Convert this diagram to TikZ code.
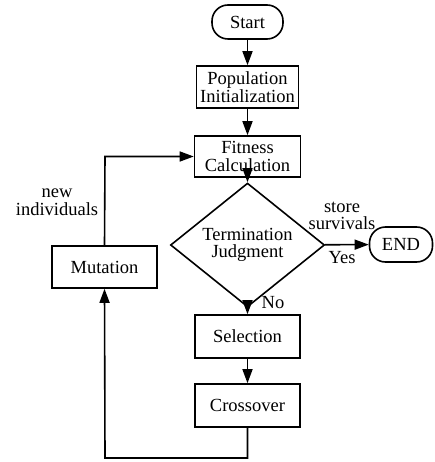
\documentclass[tikz,border=0pt]{standalone}
\usepackage{fontspec}
\setmainfont{Liberation Serif}
\usetikzlibrary{shapes.geometric,arrows.meta}
\begin{document}
\begin{tikzpicture}[x=1pt,y=-1pt,
  every node/.style={font=\fontsize{18.5}{17.5}\selectfont},
  box/.style={draw,line width=1.6pt,rectangle,inner sep=0pt,align=center,minimum width=105pt,minimum height=42pt},
  term/.style={draw,line width=1.6pt,rectangle,rounded corners=16pt,inner sep=0pt,minimum height=34pt},
  dec/.style={draw,line width=1.6pt,diamond,inner sep=0pt,align=center,minimum width=154pt,minimum height=84pt},
  lbl/.style={inner sep=0pt,align=center},
  conn/.style={line width=1.6pt,-{Triangle[length=14pt,width=10pt]}},
  plain/.style={line width=1.6pt}]
\useasboundingbox (0,0) rectangle (434,462);
\node[term,minimum width=71pt] (start) at (247.5,22) {Start};
\node[box,minimum width=102pt] (pop) at (247.5,87) {Population\\Initialization};
\node[box,minimum width=106pt,minimum height=41pt] (fit) at (247.5,156.5) {Fitness\\Calculation};
\node[dec] (dia) at (247.5,245) {Termination\\Judgment};
\node[term,minimum width=63pt,minimum height=35pt] (end) at (401,244.5) {END};
\node[box] (mut) at (104.5,267) {Mutation};
\node[box,minimum height=43pt] (sel) at (247.5,336.5) {Selection};
\node[box,minimum height=43pt] (cro) at (247.5,405.5) {Crossover};
\coordinate (bl) at (105,458);
\coordinate (br) at (247.5,458);
\coordinate (tl) at (105,156.5);
\draw[conn] (start) -- (pop);
\draw[conn] (pop) -- (fit);
\draw[conn] (fit) -- (dia);
\draw[conn] (dia) -- (end);
\draw[conn] (dia) -- (sel);
\draw[conn] (sel) -- (cro);
\draw[conn] (cro.south) -- (br) -- (bl) -- (mut.south);
\draw[conn] (mut.north) -- (tl) -- (fit.west);
\node[lbl] (newind) at (57,202) {new\\individuals};
\node[lbl] (store) at (342,216) {store\\survivals};
\node[lbl] (yes) at (342,258) {Yes};
\node[lbl] (no) at (273,303) {No};
\end{tikzpicture}
\end{document}
